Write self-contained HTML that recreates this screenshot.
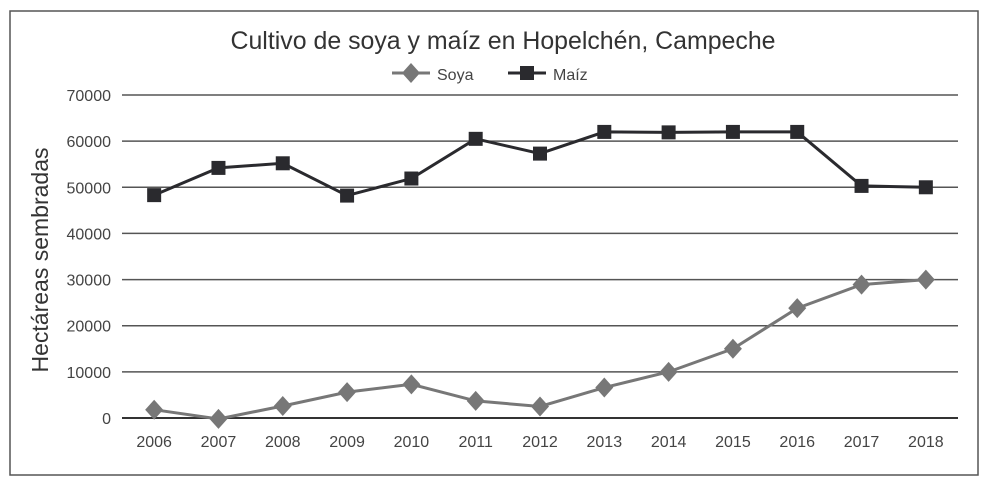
<!DOCTYPE html>
<html><head><meta charset="utf-8"><style>
body{margin:0;background:#fff;width:989px;height:485px;overflow:hidden;font-family:"Liberation Sans",sans-serif}
</style></head><body>
<svg width="989" height="485" style="font-family:'Liberation Sans',sans-serif">
<rect x="10" y="11" width="968" height="464" fill="#fff" stroke="#555" stroke-width="1.5"/>
<text x="503" y="49" text-anchor="middle" font-size="25" fill="#333" textLength="545" lengthAdjust="spacingAndGlyphs">Cultivo de soya y maíz en Hopelchén, Campeche</text>
<g>
<g>
<line x1="392" y1="73" x2="430" y2="73" stroke="#777" stroke-width="3"/>
<polygon points="411,63 420,73 411,83 402,73" fill="#777"/>
<text x="437" y="80" font-size="16" fill="#444">Soya</text></g>
<g>
<line x1="508" y1="73" x2="546" y2="73" stroke="#2a2a2e" stroke-width="3"/>
<rect x="520" y="66" width="14" height="14" fill="#2a2a2e"/>
<text x="553" y="80" font-size="16" fill="#444">Maíz</text></g>
</g>
<text transform="translate(48,260) rotate(-90)" text-anchor="middle" font-size="23" fill="#333">Hectáreas sembradas</text>
<g id="grid"></g><g id="ticks"></g><g id="series"></g>
</svg>
<script>
const categories=["2006","2007","2008","2009","2010","2011","2012","2013","2014","2015","2016","2017","2018"];
const maiz=[48300,54200,55200,48200,51900,60500,57300,62000,61900,62000,62000,50300,50000];
const soya=[1800,-200,2600,5600,7300,3700,2500,6600,10000,15000,23800,28900,30000];
const yTicks=[0,10000,20000,30000,40000,50000,60000,70000];
const NS="http://www.w3.org/2000/svg";
const x0=122,x1=958,yb=418,yt=95,ymax=70000;
const bw=(x1-x0)/categories.length;
function xs(i){return x0+bw*(i+0.5);}
function ys(v){return yb-(v/ymax)*(yb-yt);}
function mk(t,a,p){const e=document.createElementNS(NS,t);for(const k in a)e.setAttribute(k,a[k]);p.appendChild(e);return e;}
const grid=document.getElementById('grid'),ticks=document.getElementById('ticks'),ser=document.getElementById('series');
yTicks.forEach(v=>{
 const l=mk('line',{x1:x0,x2:x1,y1:ys(v),y2:ys(v),stroke:v===0?'#333':'#555','stroke-width':v===0?2:1.5},grid);
 
 
 const t=mk('text',{x:111,y:ys(v)+6,'text-anchor':'end','font-size':16,fill:'#444'},ticks);
 t.textContent=v;
 
 
});
categories.forEach((c,i)=>{
 const t=mk('text',{x:xs(i),y:447,'text-anchor':'middle','font-size':16,fill:'#444'},ticks);
 t.textContent=c;
 
 
});
function line(vals,color,name){
 const p=mk('polyline',{points:vals.map((v,i)=>xs(i)+','+ys(v)).join(' '),fill:'none',stroke:color,'stroke-width':3},ser);
 
 
}
line(soya,'#777','soya');line(maiz,'#2a2a2e','maiz');
soya.forEach((v,i)=>{const x=xs(i),y=ys(v);
 const m=mk('polygon',{points:`${x},${y-10} ${x+9},${y} ${x},${y+10} ${x-9},${y}`,fill:'#777'},ser);
 
 });
maiz.forEach((v,i)=>{const x=xs(i),y=ys(v);
 const m=mk('rect',{x:x-7,y:y-7,width:14,height:14,fill:'#2a2a2e'},ser);
 
 });
</script>
</body></html>
